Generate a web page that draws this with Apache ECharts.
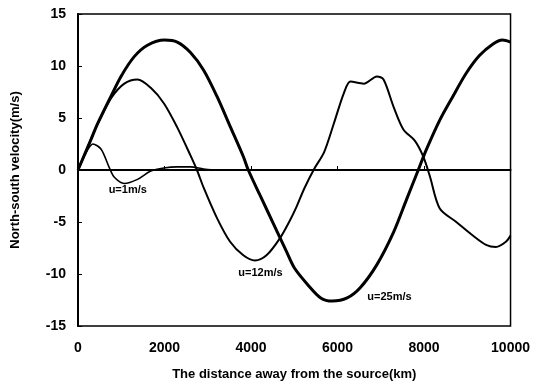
<!DOCTYPE html>
<html>
<head>
<meta charset="utf-8">
<script src="https://cdn.jsdelivr.net/npm/echarts@6/dist/echarts.min.js"></script>
<style>html,body{margin:0;padding:0;background:#fff;}#c{width:533px;height:386px;}</style>
</head>
<body>
<div id="c"></div>
<script>
// u = 25 m/s
const dist25 = [0,306,459,764,994,1300,1605,2003,2294,2600,2905,3211,3517,3822,3937,4205,4511,4816,5000,5306,5612,5879,6223,6529,6911,7294,7599,7867,8058,8364,8670,8975,9281,9587,9816,10000];
const vel25  = [0,3.0,4.5,7.1,9.0,10.9,12.0,12.5,12.3,11.3,9.6,7.1,4.2,1.3,0,-2.4,-5.1,-7.8,-9.4,-11.0,-12.3,-12.6,-12.3,-11.3,-9.1,-6.0,-2.8,0,2.0,4.8,7.1,9.3,11.0,12.1,12.5,12.3];
// u = 12 m/s
const dist12 = [0,306,459,764,1070,1376,1682,1988,2294,2600,2750,2905,3211,3517,3822,4090,4358,4663,4893,5046,5229,5459,5688,5917,6147,6300,6605,6911,7064,7294,7523,7790,7981,8135,8364,8746,9128,9434,9663,9893,10000];
const vel12  = [0,3.0,4.5,6.9,8.3,8.7,7.9,6.4,4.1,1.4,0,-1.7,-4.6,-6.9,-8.2,-8.7,-8.2,-6.6,-4.9,-3.6,-1.8,0.1,1.7,4.5,7.4,8.5,8.3,9.0,8.7,6.1,3.9,2.8,1.3,-0.6,-3.7,-5.0,-6.3,-7.2,-7.4,-6.9,-6.3];
// u = 1 m/s
const dist1 = [0,191,344,535,726,841,1070,1376,1682,1988,2294,2600,2905,3211,5000,7000,10000];
const vel1  = [0,1.7,2.5,2.0,0.2,-0.7,-1.3,-0.9,-0.1,0.2,0.3,0.3,0.1,0,0,0,0];

const xTicks = [0,2000,4000,6000,8000,10000];
const yTicks = [-15,-10,-5,0,5,10,15];

const labels = [
  {text:'u=1m/s', x:1150, y:-1.95},
  {text:'u=12m/s', x:4220, y:-9.86},
  {text:'u=25m/s', x:7200, y:-12.2}
];

const pairs = (xs, ys) => xs.map((x,i)=>[x, ys[i]]);
const font = 'Liberation Sans, Arial, sans-serif';

function mp(lbl){
  return {
    symbol:'circle', symbolSize:0, silent:true,
    data:[{coord:[lbl.x,lbl.y], label:{show:true, position:'inside', formatter:lbl.text, color:'#000', fontFamily:font, fontWeight:'bold', fontSize:11}}]
  };
}

const chart = echarts.init(document.getElementById('c'));
chart.setOption({
  animation:false,
  backgroundColor:'#fff',
  grid:{left:78, right:19, top:14, bottom:57, show:true, borderColor:'#000', borderWidth:1.5},
  xAxis:{
    type:'value', min:xTicks[0], max:xTicks[xTicks.length-1], interval:2000,
    name:'The distance away from the source(km)', nameLocation:'middle', nameGap:42,
    nameTextStyle:{color:'#000', fontFamily:font, fontWeight:'bold', fontSize:13},
    axisLine:{show:true, lineStyle:{color:'#000', width:2}},
    axisTick:{show:true, inside:true, length:4, lineStyle:{color:'#000'}},
    axisLabel:{color:'#000', fontFamily:font, fontWeight:'bold', fontSize:14, margin:15, formatter:v=>String(v)},
    splitLine:{show:false}
  },
  yAxis:{
    type:'value', min:yTicks[0], max:yTicks[yTicks.length-1], interval:5,
    name:'North-south velocity(m/s)', nameLocation:'middle', nameGap:56, nameRotate:90,
    nameTextStyle:{color:'#000', fontFamily:font, fontWeight:'bold', fontSize:13},
    axisLine:{show:true, lineStyle:{color:'#000', width:2}},
    axisTick:{show:true, inside:true, length:4, lineStyle:{color:'#000'}},
    axisLabel:{color:'#000', fontFamily:font, fontWeight:'bold', fontSize:14, margin:12, formatter:v=>String(v)},
    splitLine:{show:false}
  },
  series:[
    {type:'line', name:'u=25m/s', data:pairs(dist25, vel25), smooth:0.3, showSymbol:false,
     lineStyle:{color:'#000', width:3}, markPoint:mp(labels[2]),
     markLine:{silent:true, symbol:'none', label:{show:false}, lineStyle:{color:'#000', width:1, type:[6,3]}, data:[{yAxis:0}]}},
    {type:'line', name:'u=12m/s', data:pairs(dist12, vel12), smooth:0.3, showSymbol:false,
     lineStyle:{color:'#000', width:2}, markPoint:mp(labels[1])},
    {type:'line', name:'u=1m/s', data:pairs(dist1, vel1), smooth:0.3, showSymbol:false,
     lineStyle:{color:'#000', width:1.6}, markPoint:mp(labels[0])}
  ]
});
</script>
</body>
</html>
